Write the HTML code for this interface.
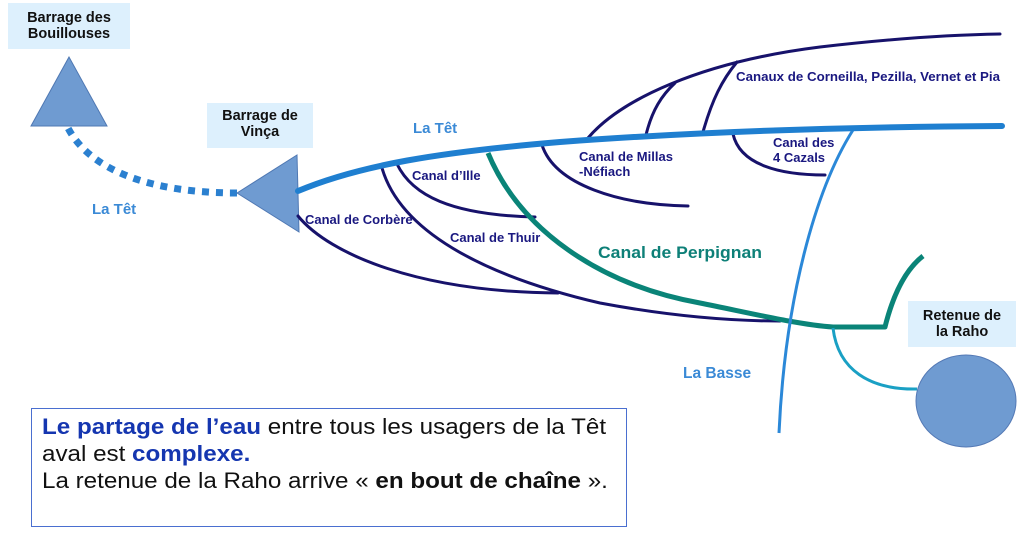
<!DOCTYPE html>
<html><head><meta charset="utf-8"><style>
html,body{margin:0;padding:0;background:#fff;}
svg{display:block;}
text{font-family:"Liberation Sans",Arial,sans-serif;}
</style></head><body>
<svg width="1024" height="537" viewBox="0 0 1024 537" xmlns="http://www.w3.org/2000/svg">
<rect width="1024" height="537" fill="#fff"/>
<!-- label boxes -->
<rect x="8" y="3" width="122" height="46" fill="#ddf0fd"/>
<rect x="207" y="103" width="106" height="45" fill="#ddf0fd"/>
<rect x="908" y="301" width="108" height="46" fill="#ddf0fd"/>
<g font-weight="bold" font-size="14.5" fill="#111" text-anchor="middle">
<text x="69" y="22">Barrage des</text>
<text x="69" y="38">Bouillouses</text>
<text x="260" y="120">Barrage de</text>
<text x="260" y="136">Vinça</text>
<text x="962" y="320">Retenue de</text>
<text x="962" y="336">la Raho</text>
</g>
<!-- dotted upstream Têt -->
<path d="M237,193 C150,193 90,170 68,128" fill="none" stroke="#2b80d0" stroke-width="7" stroke-dasharray="7 7"/>
<!-- triangles -->
<polygon points="69,57 31,126 107,126" fill="#6f9bd1" stroke="#4f78b3" stroke-width="1"/>
<polygon points="237,193 297,155 299,232" fill="#6f9bd1" stroke="#4f78b3" stroke-width="1"/>
<!-- navy canals -->
<g fill="none" stroke="#17126b" stroke-width="3" stroke-linecap="round">
<path d="M298,216 C330,255 420,292 558,293"/>
<path d="M382,168 C400,230 480,275 600,303 C680,318 740,321 780,321"/>
<path d="M397,164 C412,195 450,215 535,217"/>
<path d="M542,145 C555,185 620,205 688,206"/>
<path d="M588,138 C620,100 700,62 820,47 C880,40 940,35 1000,34"/>
<path d="M646,135 C652,110 662,95 675,83"/>
<path d="M703,132 C712,100 722,80 737,62"/>
<path d="M733,134 C740,165 780,175 825,175"/>
</g>
<!-- Canal de Perpignan -->
<path d="M488,153 C520,230 600,285 700,303 C750,313 800,325 833,327 L885,327 C893,295 905,270 923,256" fill="none" stroke="#0a8478" stroke-width="5" stroke-linejoin="round"/>
<!-- La Basse -->
<path d="M853,130 C815,190 785,300 779,433" fill="none" stroke="#2b88d8" stroke-width="3"/>
<!-- Raho connector -->
<path d="M833,328 C838,370 870,390 917,389" fill="none" stroke="#1aa0c4" stroke-width="3"/>
<!-- main Têt -->
<path d="M298,191 C360,165 440,152 560,142 C680,133 820,127 1002,126" fill="none" stroke="#1f7fd0" stroke-width="6" stroke-linecap="round"/>
<!-- Raho reservoir -->
<ellipse cx="966" cy="401" rx="50" ry="46" fill="#6f9bd1" stroke="#5479b5" stroke-width="1"/>
<!-- labels -->
<g font-weight="bold" font-size="15" fill="#3b8ad6">
<text x="92" y="214">La Têt</text>
<text x="413" y="133">La Têt</text>
<text x="683" y="378" font-size="15.5">La Basse</text>
</g>
<g font-weight="bold" font-size="13" fill="#1a1880">
<text x="305" y="224">Canal de Corbère</text>
<text x="450" y="242">Canal de Thuir</text>
<text x="412" y="180">Canal d’Ille</text>
<text x="579" y="161">Canal de Millas</text>
<text x="579" y="176">-Néfiach</text>
<text x="736" y="81" textLength="264" lengthAdjust="spacingAndGlyphs">Canaux de Corneilla, Pezilla, Vernet et Pia</text>
<text x="773" y="147">Canal des</text>
<text x="773" y="162">4 Cazals</text>
</g>
<text x="598" y="258" font-weight="bold" font-size="17" fill="#0e8078" textLength="164" lengthAdjust="spacingAndGlyphs">Canal de Perpignan</text>
<!-- text box -->
<rect x="31.5" y="408.5" width="595" height="118" fill="#fff" stroke="#4a6fd0" stroke-width="1"/>
<g font-size="22" fill="#111" transform="translate(42,0) scale(1.1,1)">
<text x="0" y="434"><tspan font-weight="bold" fill="#1536b0">Le partage de l’eau</tspan> entre tous les usagers de la Têt</text>
<text x="0" y="461">aval est <tspan font-weight="bold" fill="#1536b0">complexe.</tspan></text>
<text x="0" y="488">La retenue de la Raho arrive « <tspan font-weight="bold">en bout de chaîne</tspan> ».</text>
</g>
</svg>
</body></html>
